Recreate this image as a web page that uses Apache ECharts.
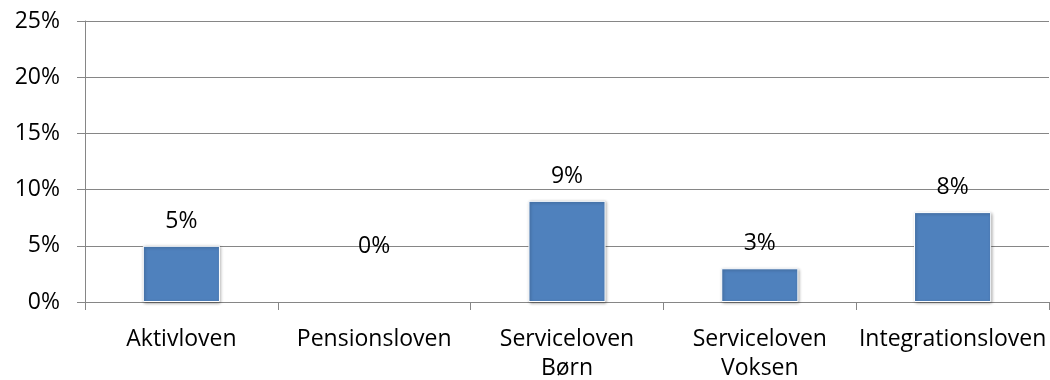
<!DOCTYPE html>
<html>
<head>
<meta charset="utf-8">
<script src="https://cdn.jsdelivr.net/npm/echarts@6/dist/echarts.min.js"></script>
<style>html,body{margin:0;padding:0;background:#fff;}#chart{width:1050px;height:380px;}</style>
</head>
<body>
<div id="chart"></div>
<script>
const categories = ['Aktivloven', 'Pensionsloven', 'Serviceloven\nBørn', 'Serviceloven\nVoksen', 'Integrationsloven'];
const values = [5, 0, 9, 3, 8];
const yTicks = { min: 0, max: 25, interval: 5 };

const FONT = '"Open Sans"';
const chart = echarts.init(document.getElementById('chart'));
chart.setOption({
  animation: false,
  backgroundColor: '#fff',
  grid: { left: 85, right: 1, top: 21, bottom: 78, containLabel: false, outerBoundsMode: 'none' },
  xAxis: {
    type: 'category',
    data: categories,
    axisLine: { lineStyle: { color: '#868686', width: 1 } },
    axisTick: { show: true, length: 8, lineStyle: { color: '#868686' } },
    axisLabel: { interval: 0, color: '#000', fontFamily: FONT, fontSize: 23, lineHeight: 29, margin: 23 }
  },
  yAxis: {
    type: 'value',
    min: yTicks.min, max: yTicks.max, interval: yTicks.interval,
    axisLine: { show: true, lineStyle: { color: '#868686', width: 1 } },
    axisTick: { show: true, length: 8, lineStyle: { color: '#868686' } },
    splitLine: { lineStyle: { color: '#868686', width: 1 } },
    axisLabel: { color: '#000', fontFamily: FONT, fontSize: 23, margin: 25, formatter: '{value}%' }
  },
  series: [{
    type: 'bar',
    barWidth: '40%',
    data: values.map(v => v === 0
      ? { value: v, label: { distance: 44 }, itemStyle: { color: 'transparent', borderColor: 'transparent', borderWidth: 0, shadowBlur: 0, shadowColor: 'transparent' } }
      : v),
    itemStyle: { color: '#4F81BD', borderColor: '#fff', borderWidth: 1, shadowBlur: 3, shadowColor: 'rgba(0,0,0,0.35)', shadowOffsetX: 1, shadowOffsetY: 1 },
    label: { show: true, position: 'top', distance: 13, color: '#000', fontFamily: FONT, fontSize: 23, formatter: '{c}%' }
  }]
});
</script>
</body>
</html>
